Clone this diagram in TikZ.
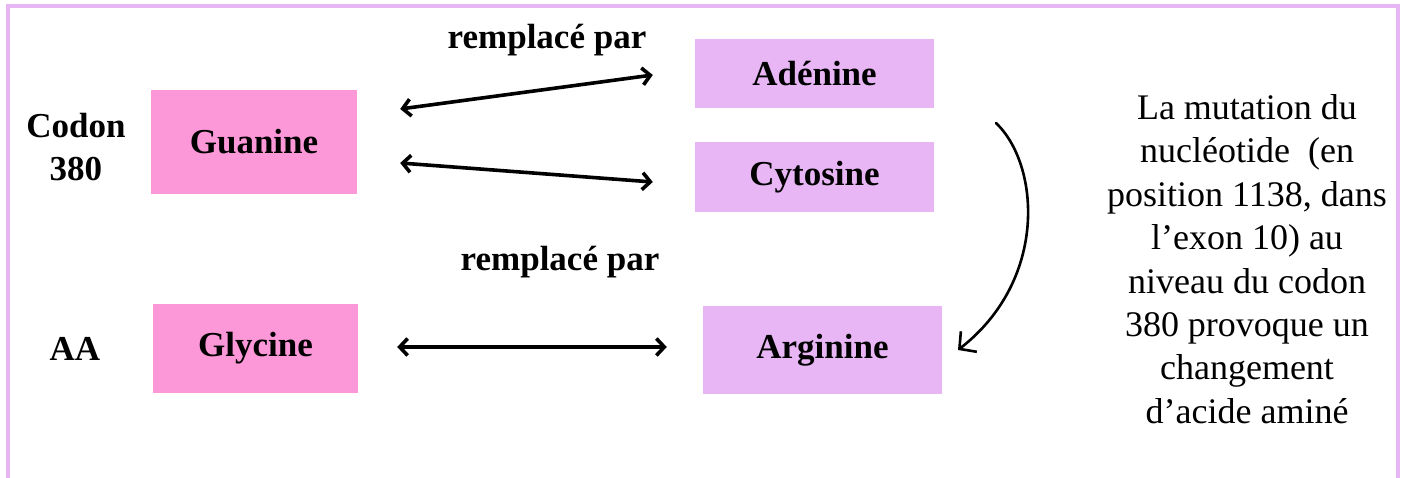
\documentclass[tikz,border=0pt]{standalone}
\usepackage{fontspec}
\setmainfont{Liberation Serif}
\usetikzlibrary{arrows.meta}

\definecolor{rose}{HTML}{FC97D8}
\definecolor{lilas}{HTML}{E8B6F5}

\begin{document}
\begin{tikzpicture}[x=1pt,y=-1pt,
    base/.style={rectangle,fill=rose,inner sep=0pt,
        font=\fontsize{35}{43}\selectfont\bfseries},
    other/.style={base,fill=lilas},
    label/.style={align=center,font=\fontsize{35}{43}\selectfont\bfseries},
    link/.style={line width=3.6pt,line cap=round,
        {Straight Barb[length=8pt,width=17pt]}-{Straight Barb[length=8pt,width=17pt]}}]
    \useasboundingbox (0,0) rectangle (1406,478);

    % open frame, runs off the bottom edge
    \draw[lilas,line width=4.5pt] (8,490) -- (8,6) -- (1398,6) -- (1398,490);

    % codon / amino acid rows
    \node[label] (codon) at (76,147) {Codon\\380};
    \node[label] (aa) at (75,349) {AA};

    \node[base,minimum width=206pt,minimum height=104pt] (guanine) at (254,142) {Guanine};
    \node[base,minimum width=205pt,minimum height=89pt] (glycine) at (255.5,348.5) {Glycine};

    \node[other,minimum width=239pt,minimum height=69pt] (adenine) at (814.5,73.5) {Adénine};
    \node[other,minimum width=239pt,minimum height=70pt] (cytosine) at (814.5,177) {Cytosine};
    \node[other,minimum width=239pt,minimum height=88pt] (arginine) at (822.5,350) {Arginine};

    \node[label] (rep1) at (547,40) {remplacé par};
    \node[label] (rep2) at (560,262) {remplacé par};

    \draw[link] ([xshift=43pt,yshift=33pt]guanine.east) -- ([xshift=-42pt,yshift=-1.5pt]adenine.west);
    \draw[link] ([xshift=43pt,yshift=-21pt]guanine.east) -- ([xshift=-42pt,yshift=-5pt]cytosine.west);
    \draw[link] ([xshift=39pt,yshift=1.5pt]glycine.east) -- ([xshift=-36pt,yshift=3pt]arginine.west);

    % hand drawn bend towards the amino acid
    \coordinate (bendtop) at (996,123);
    \coordinate (bendend) at (958,350);
    \draw[line width=2.6pt,line cap=round,-{Straight Barb[length=12pt,width=26pt]}]
        (bendtop) .. controls (1040,165) and (1048,280) .. (bendend);

    \node[align=center,font=\fontsize{36}{43.4}\selectfont] (note) at (1247,259)
        {La mutation du\\nucléotide\ \ (en\\position 1138, dans\\l’exon 10) au\\niveau du codon\\380 provoque un\\changement\\d’acide aminé};
\end{tikzpicture}
\end{document}
